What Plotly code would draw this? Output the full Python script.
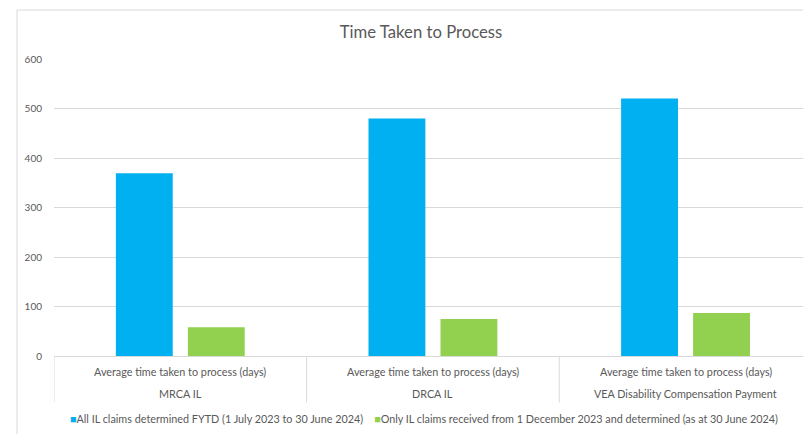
import plotly.graph_objects as go

measure = "Average time taken to process (days)"
schemes = ["MRCA IL", "DRCA IL", "VEA Disability Compensation Payment"]
all_claims = [369, 480, 520]
recent_claims = [58, 75, 87]
series_names = [
    "All IL claims determined FYTD (1 July 2023 to 30 June 2024)",
    "Only IL claims received from 1 December 2023 and determined (as at 30 June 2024)",
]
series_colors = ["#00B0F0", "#92D050"]
y_ticks = [0, 100, 200, 300, 400, 500, 600]

FONT = "Lato"
GREY = "#595959"
LINE = "#d9d9d9"
PLOT_H = 297.3
PLOT_W = 749

fig = go.Figure()
fig.add_trace(go.Bar(x=schemes, y=all_claims, name=series_names[0],
                     marker=dict(color=series_colors[0], line=dict(width=0))))
fig.add_trace(go.Bar(x=schemes, y=recent_claims, name=series_names[1],
                     marker=dict(color=series_colors[1], line=dict(width=0))))

annotations = []
shapes = []
for i, s in enumerate(schemes):
    annotations.append(dict(x=s, xref="x", y=-15.7 / PLOT_H, yref="paper", text=measure,
                            showarrow=False, xanchor="center", yanchor="middle",
                            font=dict(family=FONT, size=10.8, color=GREY)))
    annotations.append(dict(x=s, xref="x", y=-37.7 / PLOT_H, yref="paper", text=s,
                            showarrow=False, xanchor="center", yanchor="middle",
                            font=dict(family=FONT, size=10.8, color=GREY)))
    shapes.append(dict(type="line", xref="x", yref="paper", x0=i - 0.5, x1=i - 0.5,
                       y0=0, y1=-46.5 / PLOT_H, line=dict(color=LINE, width=1)))

legend_text = (
    f"<span style='color:{series_colors[0]}'>■</span>{series_names[0]}"
    f"&nbsp;&nbsp;&nbsp;&nbsp;<span style='color:{series_colors[1]}'>■</span>{series_names[1]}"
)
annotations.append(dict(x=(424 - 54) / PLOT_W, xref="paper", y=-63 / PLOT_H, yref="paper",
                        text=legend_text, showarrow=False, xanchor="center",
                        yanchor="middle", font=dict(family=FONT, size=10.8, color=GREY)))

shapes.append(dict(type="rect", xref="paper", yref="paper",
                   x0=(17 - 54) / PLOT_W, x1=1.2, y0=-0.5, y1=1 + (59 - 10) / PLOT_H,
                   line=dict(color=LINE, width=1), fillcolor="rgba(0,0,0,0)", layer="below"))

fig.update_layout(
    width=803, height=434,
    margin=dict(l=54, r=0, t=59, b=78, autoexpand=False),
    paper_bgcolor="white", plot_bgcolor="white",
    barmode="group", bargap=0.43, bargroupgap=0.21,
    font=dict(family=FONT, size=10, color=GREY),
    title=dict(text="Time Taken to Process", x=421 / 803, xanchor="center",
               y=1 - 32.5 / 434, yanchor="middle",
               font=dict(family=FONT, size=16.7, color=GREY)),
    showlegend=False,
    xaxis=dict(type="category", range=[-0.5, 2.465], showline=True, linecolor=LINE,
               linewidth=1, showgrid=False, showticklabels=False, ticks="",
               automargin=False),
    yaxis=dict(range=[0, 600], tickvals=y_ticks, showgrid=True, gridcolor=LINE,
               gridwidth=1, zeroline=False, showline=False, ticks="",
               ticklabelstandoff=11, tickfont=dict(family=FONT, size=10, color=GREY),
               automargin=False),
    annotations=annotations,
    shapes=shapes,
)

fig.write_html("out.html")
